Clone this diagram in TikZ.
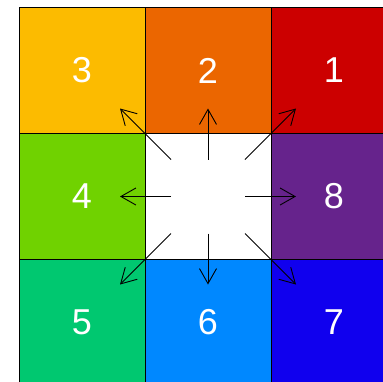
\documentclass[tikz,border=0pt]{standalone}
\usepackage{fontspec}
\setmainfont{Liberation Sans}
\usetikzlibrary{arrows.meta,calc}
\definecolor{cA}{RGB}{204,0,0}
\definecolor{cB}{RGB}{235,102,0}
\definecolor{cC}{RGB}{252,187,0}
\definecolor{cD}{RGB}{112,210,0}
\definecolor{cH}{RGB}{102,35,140}
\definecolor{cE}{RGB}{0,200,112}
\definecolor{cF}{RGB}{0,136,255}
\definecolor{cG}{RGB}{16,0,238}
\begin{document}
\begin{tikzpicture}[x=1pt,y=-1pt,
  cellbox/.style={draw=black,line width=1pt,minimum size=126pt,inner sep=0pt,outer sep=0pt,text=white,font=\fontsize{36}{36}\selectfont},
  arr/.style={line width=0.9pt,-{Straight Barb[length=15pt,width=17pt]}}]
\useasboundingbox (0,0) rectangle (383,381);
\clip (0,0) rectangle (383,381);
\node[cellbox,fill=cC] (n3) at (82,70.5) {3};
\node[cellbox,fill=cB] (n2) at (208,70.5) {2};
\node[cellbox,fill=cA] (n1) at (334,70.5) {1};
\node[cellbox,fill=cD] (n4) at (82,196.5) {4};
\node[cellbox,fill=white] (c) at (208,196.5) {};
\node[cellbox,fill=cH] (n8) at (334,196.5) {8};
\node[cellbox,fill=cE] (n5) at (82,322.5) {5};
\node[cellbox,fill=cF] (n6) at (208,322.5) {6};
\node[cellbox,fill=cG] (n7) at (334,322.5) {7};
\foreach \i/\dx/\dy in {1/1/-1,2/0/-1,3/-1/-1,4/-1/0,5/-1/1,6/0/1,7/1/1,8/1/0}{
  \coordinate (s\i) at ($(c.center)+(37*\dx,37*\dy)$);
  \coordinate (e\i) at ($(c.center)+(88*\dx,88*\dy)$);
  \draw[arr] (s\i) -- (e\i);
}
\end{tikzpicture}
\end{document}
